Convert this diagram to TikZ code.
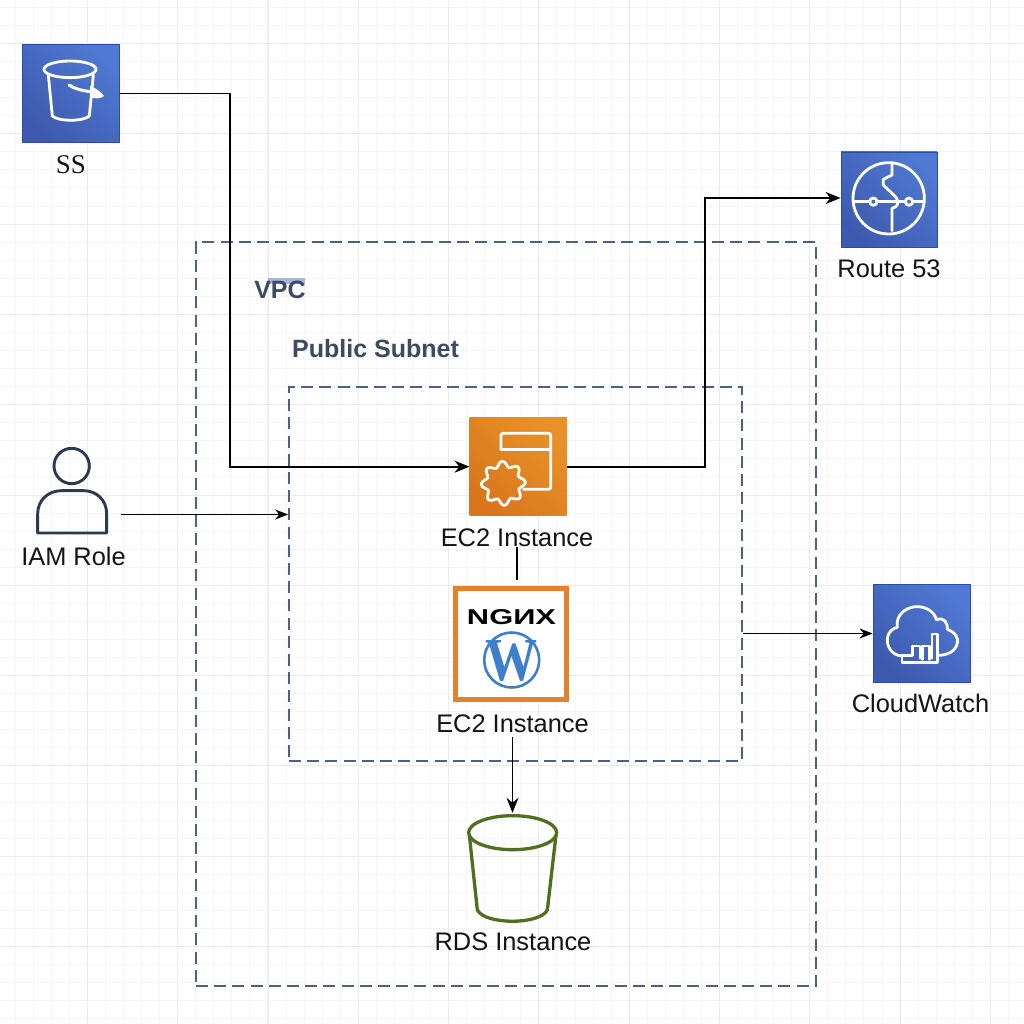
\documentclass[tikz,border=0pt]{standalone}
\usepackage{fontspec}
\setmainfont{Liberation Sans}
\newfontfamily\serifface{Liberation Serif}
\usetikzlibrary{arrows.meta}
\definecolor{gridminor}{HTML}{F5F5F5}
\definecolor{gridmajor}{HTML}{EBEBEB}
\definecolor{frameblue}{HTML}{4B618A}
\definecolor{labelslate}{HTML}{3D4A5F}
\definecolor{awsdark}{HTML}{3D5AAE}
\definecolor{awslight}{HTML}{5079D3}
\definecolor{awsedge}{HTML}{2A4CB0}
\definecolor{orangedark}{HTML}{D9761C}
\definecolor{orangelight}{HTML}{E99128}
\definecolor{nginxorange}{HTML}{E6802B}
\definecolor{wpblue}{HTML}{3E7FCC}
\definecolor{rdsgreen}{HTML}{4F7020}
\definecolor{personink}{HTML}{2D3A4D}
\definecolor{smudge}{HTML}{AAB4E2}
\tikzset{
  x=1pt,y=-1pt,
  txt/.style={font=\fontsize{25.4}{29}\selectfont,inner sep=0pt,text=black!92},
  frametxt/.style={font=\fontsize{25}{29}\selectfont\bfseries,inner sep=0pt,text=labelslate},
  bluebox/.style={minimum width=97pt,minimum height=98pt,inner sep=0pt,draw=awsedge,line width=0.8pt,left color=awsdark,right color=awslight,shading angle=135},
  orangebox/.style={minimum width=97pt,minimum height=98pt,inner sep=0pt,left color=orangedark,right color=orangelight,shading angle=135},
  framebox/.style={draw=frameblue,line width=1.9pt,dash pattern=on 12pt off 6.2pt,inner sep=0pt},
  glyph/.style={draw=white,line width=2.8pt,line join=round,line cap=round},
  link/.style={draw=black,line width=1.6pt},
  thin link/.style={draw=black,line width=1.2pt},
  tip/.style={-{Stealth[length=15pt,width=12pt]}},
}
\begin{document}
\begin{tikzpicture}
\useasboundingbox (0,0) rectangle (1024,1024);
\fill[white] (0,0) rectangle (1024,1024);
% grid
\foreach \k in {0,...,57}{
  \pgfmathsetmacro{\gx}{round(-3.4+18.06*\k)+0.5}
  \pgfmathsetmacro{\gy}{round(6.9+18.06*\k)+0.5}
  \draw[gridminor,line width=1pt] (\gx,0) -- (\gx,1024);
  \draw[gridminor,line width=1pt] (0,\gy) -- (1024,\gy);
}
\foreach \k in {1,...,11}{
  \pgfmathsetmacro{\gx}{round(-3.4+90.3*\k)+0.5}
  \pgfmathsetmacro{\gy}{round(-47.3+90.3*\k)+0.5}
  \draw[gridmajor,line width=1pt] (\gx,0) -- (\gx,1024);
  \draw[gridmajor,line width=1pt] (0,\gy) -- (1024,\gy);
}
% frames
\node[framebox,minimum width=620pt,minimum height=744pt] (vpc) at (506,614) {};
\node[framebox,minimum width=453pt,minimum height=374pt] (subnet) at (515.5,574) {};
\fill[smudge] (268,278) rectangle (305,284);
\node[frametxt] (vpclabel) at (280,290) {VPC};
\node[frametxt] (subnetlabel) at (375.5,349) {Public Subnet};

% S3
\node[bluebox] (s3) at (71,93.5) {};
\node[txt,font=\fontsize{27}{29}\selectfont\serifface] (s3label) at (71,165) {SS};
\begin{scope}[shift={(0,20)},scale=1/3]
  \draw[glyph] (210,148) ellipse [x radius=78,y radius=25];
  \draw[glyph] (145,165) -- (157,288) .. controls (175,305) and (250,305) .. (268,288) -- (280,165);
  \draw[glyph,line width=3pt] (207,195) .. controls (225,208) and (250,212) .. (270,215);
  \path[fill=white] (270,198) .. controls (290,205) and (305,218) .. (312,228) .. controls (300,238) and (285,236) .. (272,232) -- cycle;
\end{scope}

% Route 53
\node[bluebox,minimum width=96pt,minimum height=95pt] (r53) at (889,199.5) {};
\coordinate (r53in) at (841,198);
\node[txt] (r53label) at (889,269) {Route 53};
\begin{scope}[shift={(820,140)},scale=1/3]
  \draw[glyph] (206,175) circle [radius=107];
  \draw[glyph] (100,185) -- (148,185) (172,185) -- (255,185) (279,185) -- (312,185);
  \draw[glyph] (160,185) circle [radius=11];
  \draw[glyph] (267,185) circle [radius=11];
  \draw[glyph] (216,72) -- (216,105) -- (190,118) -- (190,135) -- (228,172) .. controls (240,188) and (232,202) .. (216,205) -- (216,272);
\end{scope}

% EC2
\node[orangebox] (ec2) at (518.2,466.7) {};
\node[txt] (ec2label) at (517,538) {EC2 Instance};
\begin{scope}[shift={(440,400)},scale=1/3]
  \draw[glyph,rounded corners=1.5pt] (183,148) -- (183,100) -- (332,100) -- (332,268) -- (250,268);
  \draw[glyph] (183,148) -- (332,148);
  \draw[glyph] plot[domain=0:360,samples=145,smooth] ({190+(58+8*cos(8*\x+22))*cos(\x)},{250+(58+8*cos(8*\x+22))*sin(\x)});
\end{scope}

% NGINX / WordPress
\node[minimum width=111pt,minimum height=111pt,inner sep=0pt,draw=nginxorange,line width=5pt,fill=white] (nginx) at (511,644) {};
\node[inner sep=0pt] (ngx) at (511.5,617.5) {\resizebox{89pt}{15pt}{\bfseries NGИX}};
\node[circle,draw=wpblue,line width=2.6pt,fill=white,minimum size=55pt,inner sep=0pt] (wp) at (511.7,660) {};
\node[inner sep=0pt,text=wpblue] (wpmark) at (511.7,661) {\resizebox{52pt}{40pt}{\serifface\bfseries W}};
\node[txt] (nginxlabel) at (512.5,724) {EC2 Instance};

% CloudWatch
\node[bluebox] (cw) at (921.5,633.5) {};
\node[txt] (cwlabel) at (920.5,703) {CloudWatch};
\begin{scope}[shift={(840,570)},scale=1/3]
  \draw[glyph] (185,258) .. controls (155,255) and (140,230) .. (142,205)
    .. controls (145,185) and (158,175) .. (172,172)
    .. controls (165,130) and (205,108) .. (235,110)
    .. controls (265,112) and (285,130) .. (290,150)
    .. controls (310,138) and (325,160) .. (322,178)
    .. controls (348,188) and (355,205) .. (352,218)
    .. controls (348,245) and (320,256) .. (295,256);
  \draw[glyph] (186,256) -- (186,278) -- (293,278) -- (293,192) -- (276,192) -- (276,265);
  \draw[glyph] (186,256) -- (218,256) -- (218,228) -- (240,228) -- (240,265);
  \draw[glyph] (248,268) -- (248,228) -- (268,228) -- (268,268);
\end{scope}

% IAM role
\node[inner sep=0pt,minimum width=70pt,minimum height=85pt] (iam) at (72,490.5) {};
\coordinate (iamout) at (121,514.5);
\node[txt] (iamlabel) at (73.5,556.5) {IAM Role};
\begin{scope}[shift={(0,430)},scale=1/3]
  \draw[personink,line width=2.9pt] (215,108) circle [radius=53];
  \draw[personink,line width=2.9pt,line join=round] (113,309) -- (113,252) .. controls (113,210) and (145,182) .. (185,182) -- (250,182) .. controls (290,182) and (320,210) .. (320,252) -- (320,309) -- cycle;
\end{scope}

% RDS
\node[inner sep=0pt,minimum width=90pt,minimum height=110pt] (rds) at (513,868) {};
\node[txt] (rdslabel) at (513,942) {RDS Instance};
\begin{scope}[shift={(430,800)},scale=1/3]
  \draw[rdsgreen,line width=3.3pt] (248,98) ellipse [x radius=132,y radius=51];
  \draw[rdsgreen,line width=3.3pt,line join=round] (118,105) -- (142,330) .. controls (165,375) and (330,375) .. (352,330) -- (378,105);
\end{scope}

% connectors
\coordinate (s3bend) at (230,300);
\coordinate (r53bend) at (705,300);
\draw[link,tip] (s3.east) -| (s3bend) |- (ec2.west);
\draw[link,tip] (ec2.east) -| (r53bend) |- (r53.west |- r53in);
\draw[thin link,-{Stealth[length=13pt,width=10pt]}] (iamout) -- (subnet.west |- iamout);
\draw[thin link,-{Stealth[length=13pt,width=10pt]}] (subnet.east |- cw.west) -- (cw.west);
\draw[thin link,shorten >=6pt] (ec2label.south) -- (ec2label.south |- nginx.north);
\draw[link,tip,shorten <=4pt] (nginxlabel.south) -- (nginxlabel.south |- rds.north);
\end{tikzpicture}
\end{document}
